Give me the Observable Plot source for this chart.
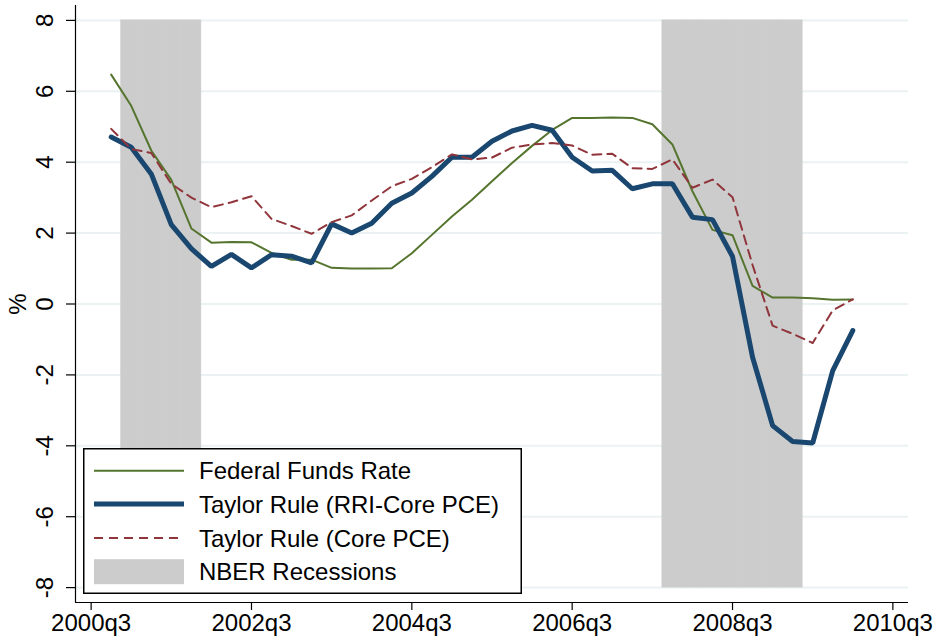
<!DOCTYPE html>
<html>
<head>
<meta charset="utf-8">
<script src="https://cdn.jsdelivr.net/npm/d3@7"></script>
<script src="https://cdn.jsdelivr.net/npm/@observablehq/plot@0.6"></script>
<style>
  body { margin: 0; background: #fff; font-family: "Liberation Sans", Arial, sans-serif; }
  #wrap { position: relative; width: 936px; height: 642px; }
  #legend { position: absolute; left: 83px; top: 448px; }
</style>
</head>
<body>
<div id="wrap"></div>
<script>
// ---- data ----
const quarters = ["2000q4","2001q1","2001q2","2001q3","2001q4","2002q1","2002q2","2002q3","2002q4",
  "2003q1","2003q2","2003q3","2003q4","2004q1","2004q2","2004q3","2004q4","2005q1","2005q2","2005q3",
  "2005q4","2006q1","2006q2","2006q3","2006q4","2007q1","2007q2","2007q3","2007q4","2008q1","2008q2",
  "2008q3","2008q4","2009q1","2009q2","2009q3","2009q4","2010q1"];
const fedFunds = [6.47,5.59,4.33,3.50,2.13,1.73,1.75,1.74,1.44,1.25,1.25,1.02,1.00,1.00,1.01,1.43,1.95,
  2.47,2.94,3.46,3.98,4.46,4.91,5.25,5.25,5.26,5.25,5.07,4.50,3.18,2.09,1.94,0.51,0.18,0.18,0.16,0.12,0.13];
const taylorRRI = [4.71,4.42,3.67,2.24,1.56,1.06,1.40,1.02,1.39,1.35,1.16,2.26,2.00,2.28,2.84,3.13,3.60,
  4.14,4.14,4.59,4.88,5.04,4.90,4.14,3.75,3.77,3.25,3.39,3.39,2.45,2.38,1.34,-1.50,-3.43,-3.88,-3.92,-1.88,-0.75];
const taylorCore = [4.94,4.37,4.26,3.39,3.00,2.73,2.87,3.04,2.40,2.20,1.98,2.31,2.50,2.92,3.32,3.53,3.86,
  4.22,4.08,4.13,4.41,4.50,4.54,4.47,4.21,4.24,3.83,3.81,4.08,3.28,3.51,3.01,1.10,-0.61,-0.84,-1.10,-0.18,0.13];
const recessionQuarters = ["2001q1","2001q2","2001q3","2001q4","2007q4","2008q1","2008q2","2008q3","2008q4","2009q1","2009q2"];
const recessionBand = [-8, 8];
const xTickLabels = ["2000q3","2002q3","2004q3","2006q3","2008q3","2010q3"];
const yTicks = [-8,-6,-4,-2,0,2,4,6,8];
const seriesNames = ["Federal Funds Rate","Taylor Rule (RRI-Core PCE)","Taylor Rule (Core PCE)","NBER Recessions"];

// ---- build tables ----
const qIndex = s => { const [y, q] = s.split("q").map(Number); return (y - 2000) * 4 + (q - 3); };
const rows = quarters.map((q, i) => ({t: qIndex(q), ffr: fedFunds[i], rri: taylorRRI[i], core: taylorCore[i]}));
const rec = recessionQuarters.map(q => ({t: qIndex(q)}));
const xTicks = xTickLabels.map(qIndex);

const colors = {ffr: "#55752f", rri: "#1a476f", core: "#90353b", rec: "#cccccc", grid: "#eaf2f3"};
const xDomain = [-0.78, 40.78], yDomain = [-8.42, 8.42];
const FS = 24;

const chart = Plot.plot({
  width: 936, height: 642,
  marginTop: 5, marginBottom: 40, marginLeft: 75, marginRight: 28,
  style: {fontFamily: "Liberation Sans, Arial, sans-serif", fontSize: FS + "px", background: "white", color: "black"},
  x: {domain: xDomain},
  y: {domain: yDomain},
  marks: [
    Plot.gridY(yTicks, {stroke: colors.grid, strokeOpacity: 1, strokeWidth: 2}),
    Plot.rect(rec, {x1: d => d.t - 0.5, x2: d => d.t + 0.5, y1: () => recessionBand[0], y2: () => recessionBand[1],
      fill: colors.rec, stroke: colors.rec, strokeWidth: 0.6}),
    Plot.line(rows, {x: "t", y: "ffr", stroke: colors.ffr, strokeWidth: 2}),
    Plot.line(rows, {x: "t", y: "rri", stroke: colors.rri, strokeWidth: 5, strokeLinejoin: "miter"}),
    Plot.line(rows, {x: "t", y: "core", stroke: colors.core, strokeWidth: 2, strokeDasharray: "9,6"}),
    Plot.ruleX([xDomain[0]], {stroke: "black", strokeWidth: 1.2}),
    Plot.ruleY([yDomain[0]], {stroke: "black", strokeWidth: 1.2}),
    Plot.axisX({ticks: xTicks, tickFormat: d => xTickLabels[xTicks.indexOf(d)], tickSize: 8, tickPadding: 3, fontSize: FS, label: null, strokeWidth: 1.2}),
    Plot.axisY({ticks: yTicks, tickFormat: () => "", tickSize: 9, label: null, strokeWidth: 1.2}),
    Plot.text(yTicks, {y: d => d, text: d => String(d), frameAnchor: "left", dx: -30, rotate: -90, textAnchor: "middle", lineAnchor: "middle", fontSize: FS, fill: "black"}),
    Plot.text(["%"], {frameAnchor: "left", dx: -57, rotate: -90, textAnchor: "middle", lineAnchor: "middle", fontSize: FS, fill: "black"})
  ]
});
const wrap = document.getElementById("wrap");
wrap.appendChild(chart);

// ---- legend (inside plot area, lower left) ----
const W = 439, H = 146;
const leg = d3.select(wrap).append("svg").attr("id", "legend").attr("width", W).attr("height", H)
  .style("font-family", "Liberation Sans, Arial, sans-serif");
leg.append("rect").attr("x", 0.75).attr("y", 0.75).attr("width", W - 1.5).attr("height", H - 1.5)
  .attr("fill", "white").attr("stroke", "black").attr("stroke-width", 1.5);
const rowY = [22.7, 56, 90, 123.7];
const styles = [
  {stroke: colors.ffr, w: 2, dash: null},
  {stroke: colors.rri, w: 5, dash: null},
  {stroke: colors.core, w: 2, dash: "9,6"}
];
styles.forEach((s, i) => {
  const l = leg.append("line").attr("x1", 11).attr("x2", 101).attr("y1", rowY[i]).attr("y2", rowY[i])
    .attr("stroke", s.stroke).attr("stroke-width", s.w);
  if (s.dash) l.attr("stroke-dasharray", s.dash);
});
leg.append("rect").attr("x", 11).attr("y", rowY[3] - 12.5).attr("width", 90).attr("height", 25).attr("fill", colors.rec);
seriesNames.forEach((n, i) => {
  leg.append("text").attr("x", 116).attr("y", rowY[i]).attr("dy", "0.36em")
    .attr("font-size", FS).attr("fill", "black").text(n);
});
</script>
</body>
</html>
